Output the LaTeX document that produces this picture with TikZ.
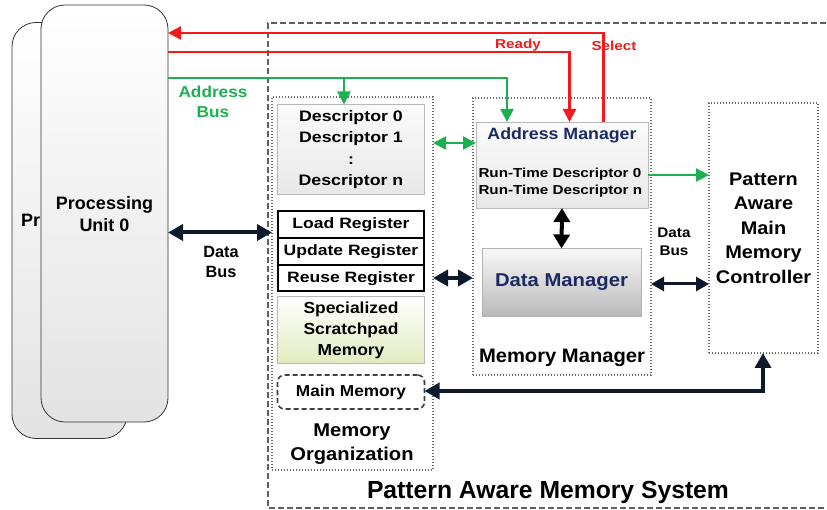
\documentclass[tikz,border=0pt]{standalone}
\usepackage{fontspec}
\setmainfont{Liberation Sans}
\newfontfamily\fA[FakeStretch=1.17]{Liberation Sans}
\newfontfamily\fB[FakeStretch=1.09]{Liberation Sans}
\newfontfamily\fC[FakeStretch=1.035]{Liberation Sans}
\usetikzlibrary{arrows.meta}
\definecolor{rd}{HTML}{F21A1A}
\definecolor{gr}{HTML}{1DB04E}
\definecolor{dk}{HTML}{0E1A2C}
\definecolor{nv}{HTML}{1B2A63}
\definecolor{dotc}{HTML}{6A6A6A}
\tikzset{
  every node/.style={inner sep=0pt, outer sep=0pt, font=\bfseries},
  pubox/.style={draw=black!80, line width=0.8pt, rounded corners=24pt, top color=white, bottom color=gray!22},
  dotbox/.style={draw=dotc, line width=1.6pt, dash pattern=on 1.4pt off 1.6pt},
  greybox/.style={draw=gray!55, line width=0.9pt, top color=gray!3, bottom color=gray!18},
  regbox/.style={draw=black, line width=2pt, fill=white},
  sigred/.style={draw=rd, line width=2.4pt},
  siggreen/.style={draw=gr, line width=2.4pt},
  databus/.style={draw=dk, line width=4pt},
  rtip/.style={-{Triangle[length=13pt,width=13pt]}},
  dtip/.style={{Triangle[length=15pt,width=16pt]}-{Triangle[length=15pt,width=16pt]}},
  gdtip/.style={{Triangle[length=13pt,width=13pt]}-{Triangle[length=13pt,width=13pt]}},
  fs/.style={font=\bfseries\fontsize{#1}{#1}\selectfont},
  fsa/.style={font=\fA\bfseries\fontsize{#1}{#1}\selectfont},
  fsb/.style={font=\fB\bfseries\fontsize{#1}{#1}\selectfont},
  fsc/.style={font=\fC\bfseries\fontsize{#1}{#1}\selectfont}
}
\begin{document}
\begin{tikzpicture}[x=1pt,y=-1pt]
\useasboundingbox (0,0) rectangle (827,510);
% processing units
\node[pubox, minimum width=115pt, minimum height=416pt] (pu1) at (69.5,230.5) {};
\node[fs=18, anchor=west] (pu1t) at (21,220) {Pr};
\node[pubox, minimum width=127pt, minimum height=417pt] (pu0) at (104.5,213.5) {};
\node[align=center, font=\bfseries\fontsize{18}{22}\selectfont] (pu0t) at (104.5,214) {Processing\\Unit 0};
% outer system
\draw[draw=gray!75!black, line width=1.8pt, dash pattern=on 6pt off 3pt] (835,23) -- (268,23) -- (268,508) -- (835,508);
\node[fs=24.7] (sys) at (548,492) {Pattern Aware Memory System};
% memory organization
\node[dotbox, minimum width=161pt, minimum height=373pt] (mo) at (352.5,283.5) {};
\node[greybox, minimum width=147pt, minimum height=90pt, align=center, font=\fA\bfseries\fontsize{15.2}{21.5}\selectfont] (desc) at (351,149.5) {Descriptor 0\\Descriptor 1\\:\\Descriptor n};
\node[regbox, minimum width=146pt, minimum height=27pt, fsa=15] (load) at (351,225) {Load Register};
\node[regbox, minimum width=146pt, minimum height=27pt, fsa=15] (upd) at (351,252) {Update Register};
\node[regbox, minimum width=146pt, minimum height=26pt, fsa=15] (reuse) at (351,278.5) {Reuse Register};
\node[draw=gray!55, line width=0.9pt, top color=white, bottom color={rgb,255:red,226;green,236;blue,192}, minimum width=147pt, minimum height=67pt, align=center, font=\fB\bfseries\fontsize{16}{21}\selectfont] (spm) at (351,330) {Specialized\\Scratchpad\\Memory};
\node[draw=gray!50!black, line width=1.6pt, dash pattern=on 5pt off 3pt, rounded corners=7pt, minimum width=147pt, minimum height=34pt, fsb=15.8] (mm) at (351,392) {Main Memory};
\node[align=center, font=\fB\bfseries\fontsize{18.5}{24}\selectfont] (mot) at (352,444) {Memory\\Organization};
% memory manager
\node[dotbox, minimum width=178pt, minimum height=277pt] (mgr) at (562,236.5) {};
\node[greybox, minimum width=172pt, minimum height=86pt] (am) at (562,165) {};
\node[text=nv, fsb=16.3] (amt) at (562,135) {Address Manager};
\node[anchor=west, align=left, font=\fA\bfseries\fontsize{13}{17}\selectfont] (rtd) at (478.5,182.5) {Run-Time Descriptor 0\\Run-Time Descriptor n};
\node[draw=gray!60, line width=0.9pt, top color=gray!5, bottom color=gray!55, minimum width=159pt, minimum height=68pt, text=nv, fsb=18.6] (dm) at (561.5,282.5) {Data Manager};
\node[fsc=19.5] (mgrt) at (562,358) {Memory Manager};
% controller
\node[dotbox, minimum width=109pt, minimum height=250pt] (ctl) at (763.5,228) {};
\node[align=center, font=\fB\bfseries\fontsize{18.3}{24.5}\selectfont] (ctlt) at (763.5,228) {Pattern\\Aware\\Main\\Memory\\Controller};
% coordinates
\coordinate (selTop) at (603.5,33);
\coordinate (rdyTop) at (569.5,52);
\coordinate (adrTop) at (507,78);
\coordinate (brn) at (344,78);
\coordinate (mmCorner) at (763,391);
% red signals
\draw[sigred, rtip] (am.north -| selTop) -- (selTop) -- (pu0.east |- selTop);
\draw[sigred, rtip] (pu0.east |- rdyTop) -- (rdyTop) -- (am.north -| rdyTop);
\node[text=rd, fsa=13] (rdyl) at (518,45) {Ready};
\node[text=rd, fsa=13] (sell) at (614,46) {Select};
% green address bus
\draw[siggreen, rtip] (pu0.east |- adrTop) -- (adrTop) -- (am.north -| adrTop);
\draw[siggreen, rtip] (brn) -- (desc.north -| brn);
\node[text=gr, align=center, font=\fB\bfseries\fontsize{15.8}{20}\selectfont] (adrl) at (213,102) {Address\\Bus};
\draw[siggreen, gdtip] (mo.east |- 0,143) -- (am.west |- 0,143);
\draw[siggreen, rtip] (am.east |- 0,175) -- (ctl.west |- 0,175);
% data buses
\draw[databus, dtip] (pu0.east |- 0,232.5) -- (mo.west |- 0,232.5);
\node[align=center, font=\bfseries\fontsize{16.3}{20.5}\selectfont] (dbl) at (221,262) {Data\\Bus};
\draw[databus, dtip] (mo.east |- 0,278) -- (mgr.west |- 0,278);
\draw[draw=black, line width=4pt, {Triangle[length=14pt,width=16pt]}-{Triangle[length=14pt,width=16pt]}] (am.south) -- (dm.north);
\draw[draw=dk, line width=3pt, {Triangle[length=13pt,width=14pt]}-{Triangle[length=13pt,width=14pt]}] (mgr.east |- 0,284) -- (ctl.west |- 0,284);
\node[align=center, font=\fB\bfseries\fontsize{14}{17.5}\selectfont] (dbr) at (674,242) {Data\\Bus};
\draw[draw=dk, line width=3.5pt, {Triangle[length=15pt,width=16pt]}-{Triangle[length=15pt,width=16pt]}] (mm.east |- mmCorner) -- (mmCorner) -- (ctl.south -| mmCorner);
\end{tikzpicture}
\end{document}
